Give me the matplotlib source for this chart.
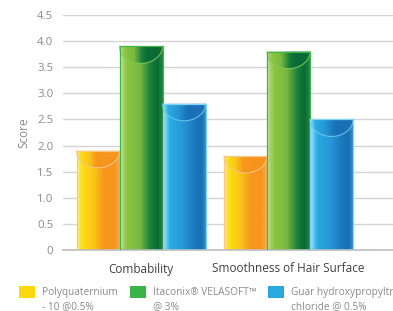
import numpy as np
import matplotlib
matplotlib.use('Agg')
import matplotlib.pyplot as plt
from matplotlib.colors import LinearSegmentedColormap
from matplotlib.patches import Patch, Polygon

plt.rcParams['font.family'] = ['Open Sans', 'DejaVu Sans']

categories = ['Combability', 'Smoothness of Hair Surface']
legend_first = ['Polyquaternium', 'Itaconix® VELASOFT™', 'Guar hydroxypropyltrimonium']
legend_second = ['- 10 @0.5%', '@ 3%', 'chloride @ 0.5%']
polyquaternium = [1.9, 1.8]
velasoft = [3.9, 3.8]
guar = [2.8, 2.5]
y_ticks = [0, 0.5, 1.0, 1.5, 2.0, 2.5, 3.0, 3.5, 4.0, 4.5]
y_tick_labels = ['0', '0.5', '1.0', '1.5', '2.0', '2.5', '3.0', '3.5', '4.0', '4.5']

# gradient stops (left -> right), edge colour, cap line colour, legend colour
styles = [
    ([(0, '#fdf0a0'), (0.07, '#fde23a'), (0.18, '#fcd80f'), (0.38, '#fac41a'),
      (0.6, '#f7981d'), (0.85, '#f7941d'), (1, '#f8b55a')],
     '#f5c98a', '#f5c98a', '#fcd90f'),
    ([(0, '#d6ebb8'), (0.07, '#a5d16a'), (0.16, '#8cc63f'), (0.45, '#78b840'),
      (0.7, '#187f3b'), (0.86, '#0b6a35'), (1, '#2a8d48')],
     '#3cb54a', '#7cc65a', '#39b54a'),
    ([(0, '#bfe9fa'), (0.07, '#6fcdf2'), (0.16, '#29abe2'), (0.45, '#2598d8'),
      (0.75, '#1b75bb'), (0.88, '#1a70b6'), (1, '#3f98d2')],
     '#7fd5f5', '#6cc6ee', '#29abe2'),
]
series = [polyquaternium, velasoft, guar]

fig = plt.figure(figsize=(3.93, 3.11), dpi=100)
ax = fig.add_axes([63 / 393, 61 / 311, 330 / 393, 235 / 311])

width = 0.2915
x = np.arange(len(categories))
grad = np.linspace(0, 1, 256).reshape(1, -1)
cap_h = 17 / 52.2

for j, (vals, (stops, edge, capline, _)) in enumerate(zip(series, styles)):
    cmap = LinearSegmentedColormap.from_list('g%d' % j, stops)
    cap_stops = [(p * 0.72, c) for p, c in stops[:-1]] + [(1, stops[-2][1])]
    cap_cmap = LinearSegmentedColormap.from_list('c%d' % j, cap_stops)
    bars = ax.bar(x + (j - 1) * width, vals, width, facecolor='none',
                  edgecolor=edge, linewidth=0.9, zorder=3)
    for b in bars:
        x0, x1 = b.get_x(), b.get_x() + b.get_width()
        top = b.get_height()
        im = ax.imshow(grad, cmap=cmap, extent=[x0, x1, 0, top],
                       aspect='auto', zorder=2, interpolation='bilinear')
        im.set_clip_path(b)
        t = np.linspace(0, np.pi, 60)
        cx = (x0 + x1) / 2
        pts = np.column_stack([cx + (x1 - x0) / 2 * np.cos(t),
                               top - cap_h * np.sin(t)])
        cap = Polygon(pts, closed=True, facecolor='none', edgecolor='none')
        ax.add_patch(cap)
        cim = ax.imshow(grad, cmap=cap_cmap, extent=[x0, x1, top - cap_h, top],
                        aspect='auto', zorder=2.4, interpolation='bilinear')
        cim.set_clip_path(cap)
        ax.plot(pts[:, 0], pts[:, 1], color=capline, alpha=0.9, lw=0.8,
                zorder=2.6)

ax.set_xlim(-0.529, 1.708)
ax.set_ylim(0, 4.5)
ax.set_yticks(y_ticks)
ax.set_yticklabels(y_tick_labels)
ax.set_xticks(x)
ax.set_xticklabels(categories)
ax.tick_params(axis='y', length=0, pad=7, labelsize=8.2, labelcolor='#8a8a8a')
ax.tick_params(axis='x', length=0, pad=9, labelsize=8.5, labelcolor='#404040')
ax.yaxis.grid(True, color='#d4d4d4', linewidth=1.0)
ax.set_axisbelow(True)
for s in ['top', 'right', 'left']:
    ax.spines[s].set_visible(False)
ax.spines['bottom'].set_color('#bdbdbd')
ax.spines['bottom'].set_linewidth(1.2)
ax.set_ylabel('Score', fontsize=8.5, color='#8a8a8a', labelpad=5)

# legend: first row has the swatches, second row carries the wrapped text
handles, labels = [], []
for st, l1, l2 in zip(styles, legend_first, legend_second):
    handles += [Patch(facecolor=st[3], edgecolor='none'),
                Patch(facecolor='none', edgecolor='none')]
    labels += [l1, l2]
fig.legend(handles, labels, loc='upper left',
           bbox_to_anchor=(19 / 393, 1 - 286 / 311), ncol=3, frameon=False,
           fontsize=7.3, handlelength=1.58, handleheight=1.48,
           handletextpad=0.69, columnspacing=1.18, borderpad=0,
           borderaxespad=0, labelcolor='#8a8a8a', labelspacing=0.12)

fig.savefig('out.png', dpi=100)
